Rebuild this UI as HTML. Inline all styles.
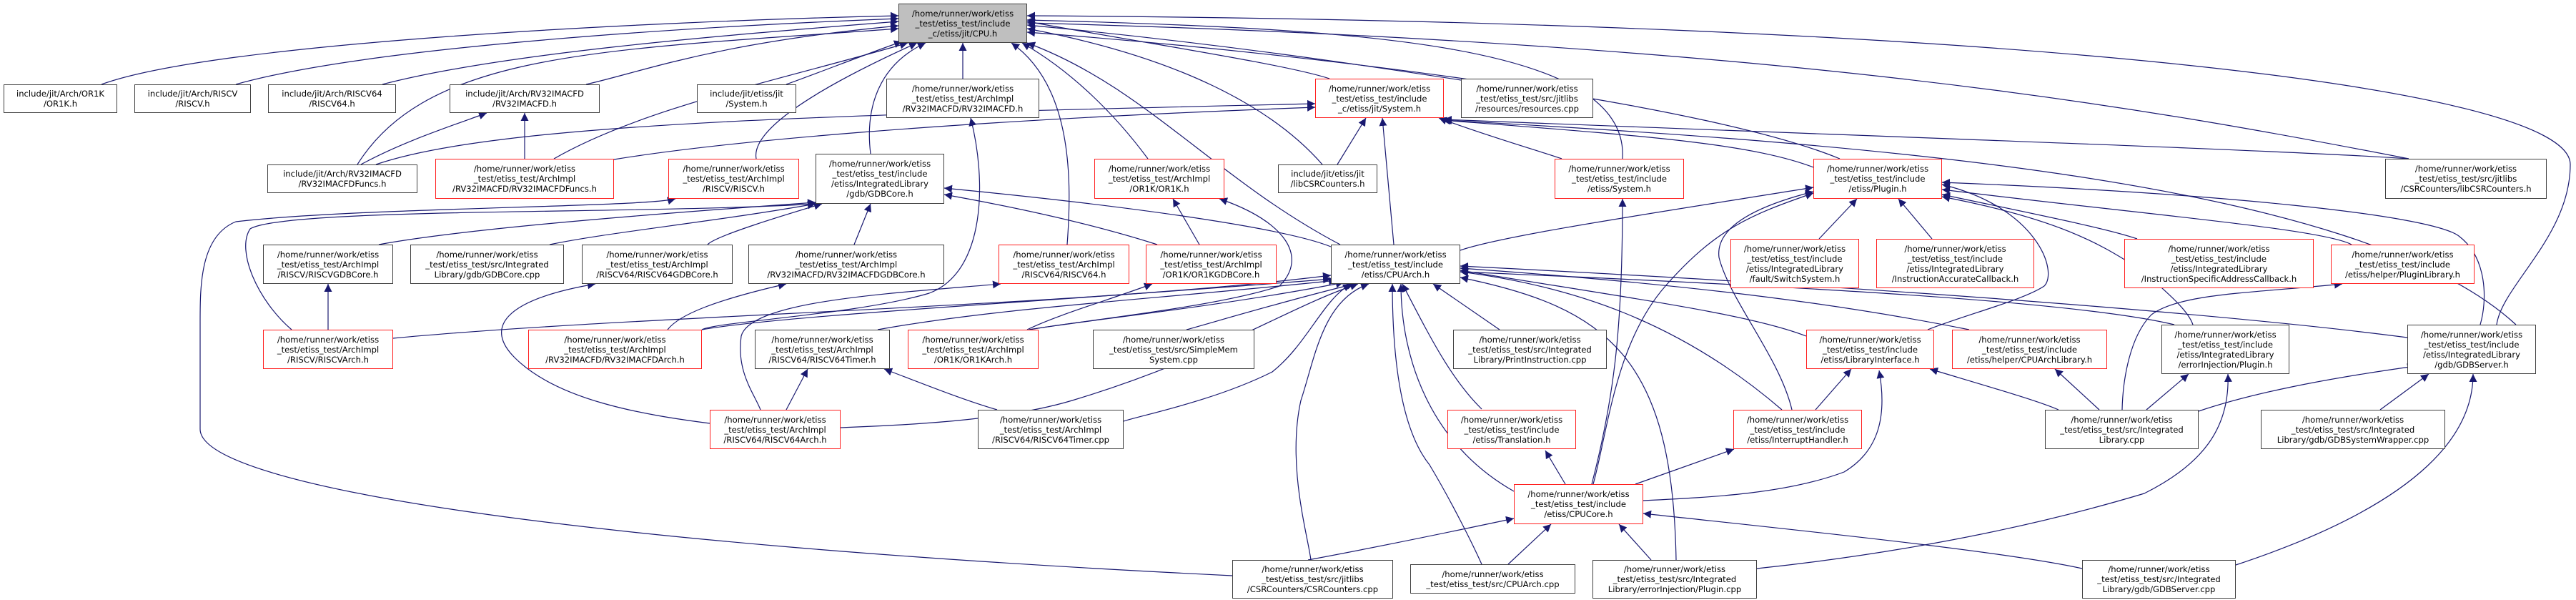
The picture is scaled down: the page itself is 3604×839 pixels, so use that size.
<!DOCTYPE html>
<html><head><meta charset="utf-8">
<style>
html,body{margin:0;padding:0;background:#fff;}
#c{position:relative;width:3604px;height:839px;overflow:hidden;background:#fff;}
svg{position:absolute;left:0;top:0;}
.n{position:absolute;box-sizing:border-box;border:1.3px solid #404040;background:#fff;display:flex;flex-direction:column;justify-content:center;align-items:center;font-family:"DejaVu Sans","Liberation Sans",sans-serif;font-size:11.6px;line-height:14px;color:#000;white-space:nowrap;text-align:center;}
.r{border-color:#ff2020;}
.g{background:#bfbfbf;}
</style></head><body><div id="c">
<svg width="3604" height="839" viewBox="0 0 3604 839">
<defs><marker id="a" viewBox="0 0 10 10" refX="10" refY="5" markerWidth="11" markerHeight="11" markerUnits="userSpaceOnUse" orient="auto-start-reverse"><path d="M0,0 L10,5 L0,10 z" fill="#191970"/></marker></defs>
<g fill="none" stroke="#191970" stroke-width="1.2" marker-start="url(#a)">
<path d="M1257,22 C900,30 300,60 142,118"/>
<path d="M1257,26 C900,40 500,70 330,118"/>
<path d="M1257,30 C1000,50 700,75 535,118"/>
<path d="M1257,40 C850,70 600,70 500,230"/>
<path d="M1257,36 C1000,60 900,100 820,118"/>
<path d="M1262,58 C1200,80 1150,100 1100,118"/>
<path d="M1270,60 C1100,110 900,150 775,222"/>
<path d="M1283,60 C1150,120 1050,180 1058,222"/>
<path d="M1295,60 C1230,90 1210,150 1218,215"/>
<path d="M1347,60 L1347,110"/>
<path d="M1430,60 C1500,100 1560,160 1606,222"/>
<path d="M1415,60 C1500,120 1500,250 1493,342"/>
<path d="M1437,30 C1600,60 1800,90 1860,110"/>
<path d="M1437,35 C1700,60 1900,90 2044,112"/>
<path d="M1437,40 C1650,80 1780,150 1850,230"/>
<path d="M1437,28 C1900,40 2280,60 2270,222"/>
<path d="M1437,45 C1900,80 2400,150 2574,222"/>
<path d="M1437,60 C1600,120 1700,250 1875,342"/>
<path d="M1437,32 C2500,60 3000,150 3370,222"/>
<path d="M1437,22 C2800,30 3596,120 3596,230 C3596,330 3500,400 3493,454"/>
<path d="M945,278 C900,290 500,290 330,310 C280,330 280,400 280,450 L280,600 C280,680 800,760 1724,805"/>
<path d="M1141,285 C900,300 400,290 350,320 C330,350 360,420 408,461"/>
<path d="M459,397 L459,461"/>
<path d="M1862,385 C1500,430 900,440 550,473"/>
<path d="M1358,165 C1380,250 1380,380 1300,410 C1200,440 1000,450 982,461"/>
<path d="M681,158 C620,180 560,200 505,230"/>
<path d="M734,158 L734,222"/>
<path d="M1840,145 C1200,160 700,170 526,230"/>
<path d="M1840,150 C1300,170 1000,200 859,223"/>
<path d="M1911,165 L1871,230"/>
<path d="M1934,165 L1950,342"/>
<path d="M2013,165 C2080,190 2150,210 2185,222"/>
<path d="M2020,167 C2600,190 3200,210 3370,222"/>
<path d="M2020,168 C2600,200 3300,250 3520,454"/>
<path d="M2018,168 C2300,190 2450,200 2540,235"/>
<path d="M2537,262 C2300,300 2100,330 2043,350"/>
<path d="M2537,268 C2450,290 2400,320 2405,360 C2420,420 2490,500 2507,573"/>
<path d="M2537,270 C2450,300 2400,320 2330,400 C2260,480 2250,600 2229,677"/>
<path d="M2598,278 L2545,334"/>
<path d="M2656,278 L2703,334"/>
<path d="M2717,258 C2850,290 2880,380 2860,400 C2830,420 2750,440 2697,461"/>
<path d="M2717,272 C2850,300 2950,320 2990,334"/>
<path d="M2717,265 C3000,300 3250,320 3290,342"/>
<path d="M2717,275 C2900,310 2950,350 3000,380 C3020,400 3060,430 3068,454"/>
<path d="M2717,255 C3100,270 3400,300 3440,330 C3480,360 3480,420 3470,454"/>
<path d="M1862,390 C1500,420 1100,440 982,461"/>
<path d="M1870,392 C1600,420 1400,430 1228,461"/>
<path d="M1880,395 C1700,430 1500,450 1440,461"/>
<path d="M1900,397 C1800,430 1700,500 1500,560 C1400,590 1250,595 1176,598"/>
<path d="M1895,397 C1800,420 1700,450 1660,461"/>
<path d="M1915,397 C1850,420 1840,500 1820,560 C1800,650 1830,750 1834,783"/>
<path d="M1948,397 C1948,500 1960,600 2000,650 C2030,700 2060,760 2073,789"/>
<path d="M1960,397 C1960,500 2000,620 2118,687"/>
<path d="M1962,397 C2000,470 2030,530 2073,572"/>
<path d="M2005,397 L2098,461"/>
<path d="M2043,388 C2250,430 2340,500 2345,783"/>
<path d="M2043,380 C2200,400 2350,450 2493,573"/>
<path d="M2043,378 C2300,420 2450,440 2527,470"/>
<path d="M2043,375 C2400,400 2600,430 2755,461"/>
<path d="M2043,372 C2800,410 3200,450 3368,472"/>
<path d="M2043,380 C2500,400 2900,420 3042,454"/>
<path d="M1321,263 C1600,290 1800,320 1862,345"/>
<path d="M1321,272 C1450,295 1550,320 1619,342"/>
<path d="M1141,283 C900,300 650,320 530,342"/>
<path d="M1150,285 C1100,300 1000,330 990,342"/>
<path d="M1218,285 L1195,342"/>
<path d="M1141,285 C1000,310 850,325 769,342"/>
<path d="M833,397 C700,420 680,460 720,500 C780,560 900,580 993,592"/>
<path d="M1100,397 C1000,420 950,440 934,461"/>
<path d="M1130,516 L1100,573"/>
<path d="M1237,516 C1300,540 1350,560 1395,573"/>
<path d="M1400,397 C1250,410 1050,420 1037,470 C1030,520 1055,550 1064,573"/>
<path d="M1612,397 C1550,420 1480,440 1437,461"/>
<path d="M1706,278 C1800,310 1830,360 1790,400 C1700,430 1500,450 1440,461"/>
<path d="M1641,278 L1678,342"/>
<path d="M1890,397 C1850,420 1830,480 1780,520 C1700,560 1600,580 1572,589"/>
<path d="M2118,725 C2000,750 1900,770 1830,783"/>
<path d="M2170,733 L2110,789"/>
<path d="M2265,733 L2310,783"/>
<path d="M2299,718 C2500,740 2800,770 2913,795"/>
<path d="M2162,630 L2190,677"/>
<path d="M2270,278 C2270,450 2260,550 2227,677"/>
<path d="M2426,628 L2288,677"/>
<path d="M2629,518 C2640,580 2630,630 2580,660 C2500,690 2400,695 2299,700"/>
<path d="M3117,523 C3120,600 3080,650 3000,690 C2800,750 2600,780 2458,795"/>
<path d="M2590,516 L2540,573"/>
<path d="M2700,516 C2780,540 2850,560 2880,573"/>
<path d="M2875,516 L2937,573"/>
<path d="M3277,397 C3150,410 3050,410 3010,440 C2980,470 2970,530 2969,573"/>
<path d="M3062,523 L3003,573"/>
<path d="M3379,512 C3250,530 3150,550 3076,575"/>
<path d="M3398,523 L3330,573"/>
<path d="M3460,523 C3460,600 3400,700 3128,790"/>
</g></svg>

<div class="n g" style="left:1257px;top:5px;width:180px;height:55px">/home/runner/work/etiss<br>_test/etiss_test/include<br>_c/etiss/jit/CPU.h</div>
<div class="n" style="left:5px;top:118px;width:159px;height:40px">include/jit/Arch/OR1K<br>/OR1K.h</div>
<div class="n" style="left:188px;top:118px;width:163px;height:40px">include/jit/Arch/RISCV<br>/RISCV.h</div>
<div class="n" style="left:375px;top:118px;width:179px;height:40px">include/jit/Arch/RISCV64<br>/RISCV64.h</div>
<div class="n" style="left:629px;top:118px;width:210px;height:40px">include/jit/Arch/RV32IMACFD<br>/RV32IMACFD.h</div>
<div class="n" style="left:975px;top:118px;width:139px;height:40px">include/jit/etiss/jit<br>/System.h</div>
<div class="n" style="left:1240px;top:110px;width:214px;height:55px">/home/runner/work/etiss<br>_test/etiss_test/ArchImpl<br>/RV32IMACFD/RV32IMACFD.h</div>
<div class="n r" style="left:1840px;top:110px;width:180px;height:55px">/home/runner/work/etiss<br>_test/etiss_test/include<br>_c/etiss/jit/System.h</div>
<div class="n" style="left:2044px;top:110px;width:185px;height:55px">/home/runner/work/etiss<br>_test/etiss_test/src/jitlibs<br>/resources/resources.cpp</div>
<div class="n" style="left:374px;top:230px;width:210px;height:40px">include/jit/Arch/RV32IMACFD<br>/RV32IMACFDFuncs.h</div>
<div class="n r" style="left:609px;top:222px;width:250px;height:56px">/home/runner/work/etiss<br>_test/etiss_test/ArchImpl<br>/RV32IMACFD/RV32IMACFDFuncs.h</div>
<div class="n r" style="left:935px;top:222px;width:183px;height:56px">/home/runner/work/etiss<br>_test/etiss_test/ArchImpl<br>/RISCV/RISCV.h</div>
<div class="n" style="left:1141px;top:215px;width:180px;height:70px">/home/runner/work/etiss<br>_test/etiss_test/include<br>/etiss/IntegratedLibrary<br>/gdb/GDBCore.h</div>
<div class="n r" style="left:1531px;top:222px;width:182px;height:56px">/home/runner/work/etiss<br>_test/etiss_test/ArchImpl<br>/OR1K/OR1K.h</div>
<div class="n" style="left:1788px;top:230px;width:139px;height:40px">include/jit/etiss/jit<br>/libCSRCounters.h</div>
<div class="n r" style="left:2175px;top:222px;width:181px;height:56px">/home/runner/work/etiss<br>_test/etiss_test/include<br>/etiss/System.h</div>
<div class="n r" style="left:2537px;top:222px;width:180px;height:56px">/home/runner/work/etiss<br>_test/etiss_test/include<br>/etiss/Plugin.h</div>
<div class="n" style="left:3337px;top:222px;width:226px;height:56px">/home/runner/work/etiss<br>_test/etiss_test/src/jitlibs<br>/CSRCounters/libCSRCounters.h</div>
<div class="n" style="left:368px;top:342px;width:182px;height:55px">/home/runner/work/etiss<br>_test/etiss_test/ArchImpl<br>/RISCV/RISCVGDBCore.h</div>
<div class="n" style="left:574px;top:342px;width:215px;height:55px">/home/runner/work/etiss<br>_test/etiss_test/src/Integrated<br>Library/gdb/GDBCore.cpp</div>
<div class="n" style="left:814px;top:342px;width:211px;height:55px">/home/runner/work/etiss<br>_test/etiss_test/ArchImpl<br>/RISCV64/RISCV64GDBCore.h</div>
<div class="n" style="left:1047px;top:342px;width:274px;height:55px">/home/runner/work/etiss<br>_test/etiss_test/ArchImpl<br>/RV32IMACFD/RV32IMACFDGDBCore.h</div>
<div class="n r" style="left:1397px;top:342px;width:183px;height:55px">/home/runner/work/etiss<br>_test/etiss_test/ArchImpl<br>/RISCV64/RISCV64.h</div>
<div class="n r" style="left:1603px;top:342px;width:183px;height:55px">/home/runner/work/etiss<br>_test/etiss_test/ArchImpl<br>/OR1K/OR1KGDBCore.h</div>
<div class="n" style="left:1862px;top:342px;width:181px;height:55px">/home/runner/work/etiss<br>_test/etiss_test/include<br>/etiss/CPUArch.h</div>
<div class="n r" style="left:2421px;top:334px;width:180px;height:69px">/home/runner/work/etiss<br>_test/etiss_test/include<br>/etiss/IntegratedLibrary<br>/fault/SwitchSystem.h</div>
<div class="n r" style="left:2625px;top:334px;width:221px;height:69px">/home/runner/work/etiss<br>_test/etiss_test/include<br>/etiss/IntegratedLibrary<br>/InstructionAccurateCallback.h</div>
<div class="n r" style="left:2972px;top:334px;width:265px;height:69px">/home/runner/work/etiss<br>_test/etiss_test/include<br>/etiss/IntegratedLibrary<br>/InstructionSpecificAddressCallback.h</div>
<div class="n r" style="left:3261px;top:342px;width:201px;height:55px">/home/runner/work/etiss<br>_test/etiss_test/include<br>/etiss/helper/PluginLibrary.h</div>
<div class="n r" style="left:368px;top:461px;width:182px;height:55px">/home/runner/work/etiss<br>_test/etiss_test/ArchImpl<br>/RISCV/RISCVArch.h</div>
<div class="n r" style="left:739px;top:461px;width:243px;height:55px">/home/runner/work/etiss<br>_test/etiss_test/ArchImpl<br>/RV32IMACFD/RV32IMACFDArch.h</div>
<div class="n" style="left:1056px;top:461px;width:189px;height:55px">/home/runner/work/etiss<br>_test/etiss_test/ArchImpl<br>/RISCV64/RISCV64Timer.h</div>
<div class="n r" style="left:1270px;top:461px;width:183px;height:55px">/home/runner/work/etiss<br>_test/etiss_test/ArchImpl<br>/OR1K/OR1KArch.h</div>
<div class="n" style="left:1529px;top:461px;width:226px;height:55px">/home/runner/work/etiss<br>_test/etiss_test/src/SimpleMem<br>System.cpp</div>
<div class="n" style="left:2033px;top:461px;width:215px;height:55px">/home/runner/work/etiss<br>_test/etiss_test/src/Integrated<br>Library/PrintInstruction.cpp</div>
<div class="n r" style="left:2527px;top:461px;width:179px;height:55px">/home/runner/work/etiss<br>_test/etiss_test/include<br>/etiss/LibraryInterface.h</div>
<div class="n r" style="left:2731px;top:461px;width:217px;height:55px">/home/runner/work/etiss<br>_test/etiss_test/include<br>/etiss/helper/CPUArchLibrary.h</div>
<div class="n" style="left:3024px;top:454px;width:179px;height:69px">/home/runner/work/etiss<br>_test/etiss_test/include<br>/etiss/IntegratedLibrary<br>/errorInjection/Plugin.h</div>
<div class="n" style="left:3368px;top:454px;width:180px;height:69px">/home/runner/work/etiss<br>_test/etiss_test/include<br>/etiss/IntegratedLibrary<br>/gdb/GDBServer.h</div>
<div class="n r" style="left:993px;top:573px;width:183px;height:55px">/home/runner/work/etiss<br>_test/etiss_test/ArchImpl<br>/RISCV64/RISCV64Arch.h</div>
<div class="n" style="left:1368px;top:573px;width:204px;height:55px">/home/runner/work/etiss<br>_test/etiss_test/ArchImpl<br>/RISCV64/RISCV64Timer.cpp</div>
<div class="n r" style="left:2025px;top:573px;width:180px;height:55px">/home/runner/work/etiss<br>_test/etiss_test/include<br>/etiss/Translation.h</div>
<div class="n r" style="left:2425px;top:573px;width:180px;height:55px">/home/runner/work/etiss<br>_test/etiss_test/include<br>/etiss/InterruptHandler.h</div>
<div class="n" style="left:2861px;top:573px;width:215px;height:55px">/home/runner/work/etiss<br>_test/etiss_test/src/Integrated<br>Library.cpp</div>
<div class="n" style="left:3163px;top:573px;width:258px;height:55px">/home/runner/work/etiss<br>_test/etiss_test/src/Integrated<br>Library/gdb/GDBSystemWrapper.cpp</div>
<div class="n r" style="left:2118px;top:677px;width:181px;height:56px">/home/runner/work/etiss<br>_test/etiss_test/include<br>/etiss/CPUCore.h</div>
<div class="n" style="left:1724px;top:783px;width:225px;height:54px">/home/runner/work/etiss<br>_test/etiss_test/src/jitlibs<br>/CSRCounters/CSRCounters.cpp</div>
<div class="n" style="left:1973px;top:789px;width:231px;height:41px">/home/runner/work/etiss<br>_test/etiss_test/src/CPUArch.cpp</div>
<div class="n" style="left:2228px;top:783px;width:230px;height:54px">/home/runner/work/etiss<br>_test/etiss_test/src/Integrated<br>Library/errorInjection/Plugin.cpp</div>
<div class="n" style="left:2913px;top:783px;width:215px;height:54px">/home/runner/work/etiss<br>_test/etiss_test/src/Integrated<br>Library/gdb/GDBServer.cpp</div>
</div></body></html>
